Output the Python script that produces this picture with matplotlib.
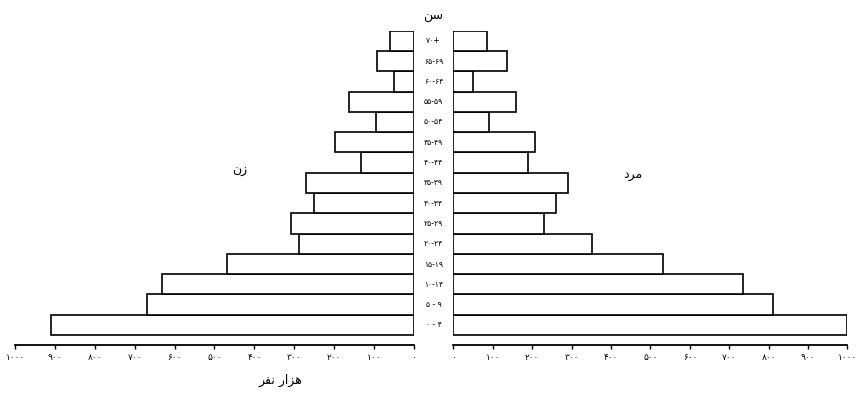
"""Population pyramid (scanned style) redrawn with matplotlib."""

import matplotlib

matplotlib.use("Agg")
import matplotlib.pyplot as plt
import numpy as np

plt.rcParams["font.family"] = ["DejaVu Sans"]

# age groups, bottom to top
age_groups = [
    "۰ - ۴", "۵ - ۹", "۱۰-۱۴", "۱۵-۱۹", "۲۰-۲۴", "۲۵-۲۹", "۳۰-۳۴", "۳۵-۳۹",
    "۴۰-۴۴", "۴۵-۴۹", "۵۰-۵۴", "۵۵-۵۹", "۶۰-۶۴", "۶۵-۶۹", "۷۰+",
]
# thousands of persons
women = [910, 670, 631, 469, 288, 309, 251, 271, 133, 198, 95, 163, 50, 92, 60]
men = [1000, 812, 736, 533, 352, 231, 261, 290, 190, 206, 90, 160, 49, 135, 85]

tick_values = [0, 100, 200, 300, 400, 500, 600, 700, 800, 900, 1000]
tick_labels = ["۰", "۱۰۰", "۲۰۰", "۳۰۰", "۴۰۰", "۵۰۰", "۶۰۰", "۷۰۰", "۸۰۰", "۹۰۰", "۱۰۰۰"]

# Arabic-script titles in visual (shaped, left-to-right) order
label_age = "\uFEE6\uFEB3"            # سن
label_women = "\uFEE5\uFEAF"          # زن
label_men = "\uFEA9\uFEAE\uFEE3"      # مرد
label_unit = "\uFEAE\uFED4\uFEE7 \uFEAD\uFE8D\uFEB0\uFEEB"  # هزار نفر


def _style(ax):
    for side in ("top", "left", "right"):
        ax.spines[side].set_visible(False)
    ax.spines["bottom"].set_linewidth(1.3)
    ax.set_yticks([])
    ax.set_xticks(tick_values)
    ax.set_xticklabels(tick_labels, fontsize=6.5)
    ax.tick_params(axis="x", direction="out", length=3, width=1, pad=3)
    ax.set_ylim(-0.99, len(age_groups) - 0.5)


def main() -> None:
    fig = plt.figure(figsize=(8.63, 3.98), dpi=100)
    bottom, height = 0.1332, 0.7897
    ax_l = fig.add_axes([0.0174, bottom, 0.4623, height])
    ax_r = fig.add_axes([0.5253, bottom, 0.4566, height])

    y = np.arange(len(age_groups))
    ax_l.barh(y, women, height=1.0, color="white", edgecolor="black", linewidth=1.2)
    ax_r.barh(y, men, height=1.0, color="white", edgecolor="black", linewidth=1.2)

    _style(ax_l)
    _style(ax_r)
    ax_l.set_xlim(1000, 0)
    ax_r.set_xlim(0, 1000)

    # age labels between the two halves
    for i, lab in enumerate(age_groups):
        yf = bottom + height * (i + 0.99) / (len(age_groups) - 0.5 + 0.99)
        fig.text(433.5 / 863, yf, lab, ha="center", va="center", fontsize=5.5)

    fig.text(433.5 / 863, 1 - 15 / 398, label_age, ha="center", va="center", fontsize=9)
    fig.text(240 / 863, 1 - 171 / 398, label_women, ha="center", va="center", fontsize=9)
    fig.text(633 / 863, 1 - 175 / 398, label_men, ha="center", va="center", fontsize=9)
    fig.text(280 / 863, 1 - 380 / 398, label_unit, ha="center", va="center", fontsize=9)

    fig.savefig("out.png", dpi=100)
    plt.close(fig)


if __name__ == "__main__":
    main()
